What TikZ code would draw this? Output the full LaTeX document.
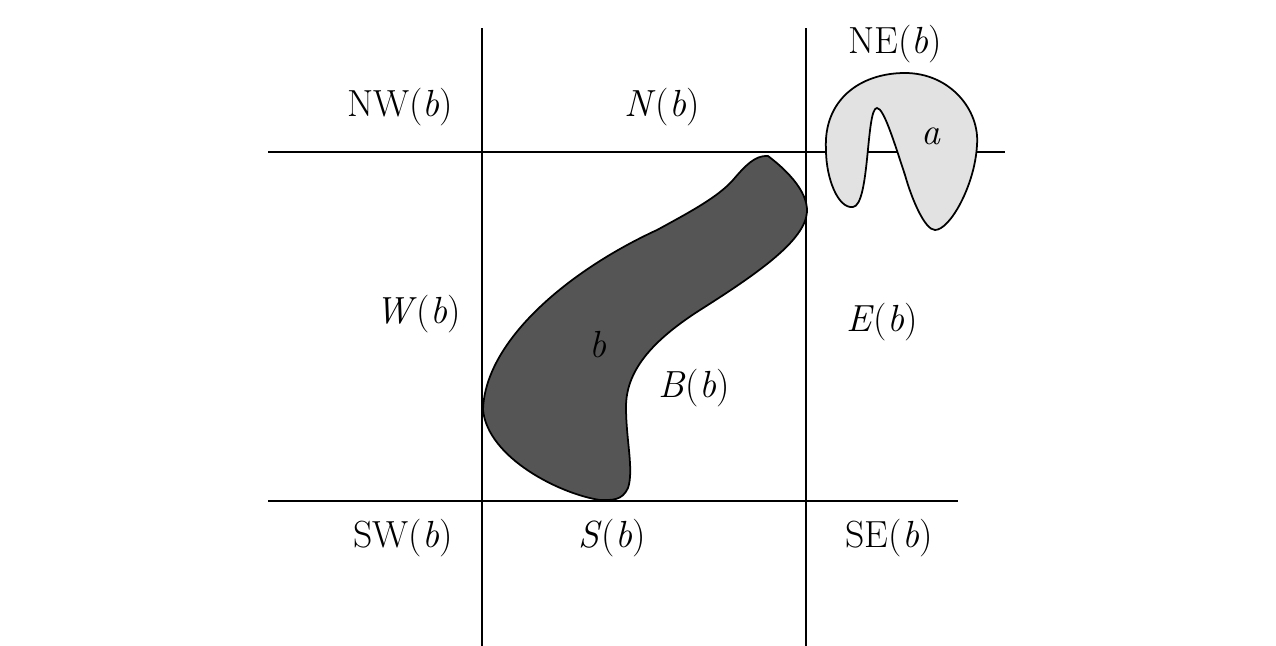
\documentclass[tikz,border=0pt]{standalone}
\usepackage{fontspec}
\begin{document}
\begin{tikzpicture}[x=0.02cm,y=-0.02cm,
  lbl/.style={inner sep=0pt,font=\fontsize{21.5}{26}\selectfont},
  gridline/.style={line width=1pt,black},
  regionb/.style={fill={rgb,255:red,85;green,85;blue,85},draw=black,line width=1pt},
  regiona/.style={fill={rgb,255:red,226;green,226;blue,226},draw=black,line width=1pt}]
\useasboundingbox (0,0) rectangle (1276,646);
% grid line ends
\coordinate (v1t) at (482,28);
\coordinate (v1b) at (482,646);
\coordinate (v2t) at (806,28);
\coordinate (v2b) at (806,646);
\coordinate (h1l) at (268,152);
\coordinate (h1r) at (1005,152);
\coordinate (h2l) at (268,501);
\coordinate (h2r) at (958,501);
\draw[gridline] (v1t) -- (v1b);
\draw[gridline] (v2t) -- (v2b);
\draw[gridline] (h1l) -- (h1r);
\draw[gridline] (h2l) -- (h2r);
% region b
\draw[regionb] (768,156)
  .. controls (784,168) and (808,190) .. (807,212)
  .. controls (805,240) and (760,272) .. (700,310)
  .. controls (650,342) and (626,372) .. (626,407)
  .. controls (626,440) and (634,470) .. (628,488)
  .. controls (622,501) and (612,500) .. (600,500)
  .. controls (560,494) and (488,458) .. (483,410)
  .. controls (485,340) and (570,270) .. (657,230)
  .. controls (690,212) and (718,197) .. (733,180)
  .. controls (745,166) and (755,155) .. cycle;
% region a
\draw[regiona] (826,150)
  .. controls (823,100) and (860,73) .. (905,73)
  .. controls (950,73) and (980,110) .. (977,145)
  .. controls (975,185) and (950,230) .. (935,230)
  .. controls (925,230) and (912,200) .. (905,175)
  .. controls (895,145) and (884,108) .. (877,108)
  .. controls (866,108) and (870,205) .. (853,207)
  .. controls (838,209) and (826,178) .. cycle;
% labels
\node[lbl] (nw) at (400,107) {NW(\textit{b})};
\node[lbl] (n) at (662,107) {\textit{N}(\textit{b})};
\node[lbl] (ne) at (895,44) {NE(\textit{b})};
\node[lbl] (w) at (418,314) {\textit{W}(\textit{b})};
\node[lbl] (e) at (882,322) {\textit{E}(\textit{b})};
\node[lbl] (bl) at (598,345) {\textit{b}};
\node[lbl] (bb) at (694,388) {\textit{B}(\textit{b})};
\node[lbl] (al) at (931,136) {\textit{a}};
\node[lbl] (sw) at (403,538) {SW(\textit{b})};
\node[lbl] (s) at (612,538) {\textit{S}(\textit{b})};
\node[lbl] (se) at (889,538) {SE(\textit{b})};
\end{tikzpicture}
\end{document}
